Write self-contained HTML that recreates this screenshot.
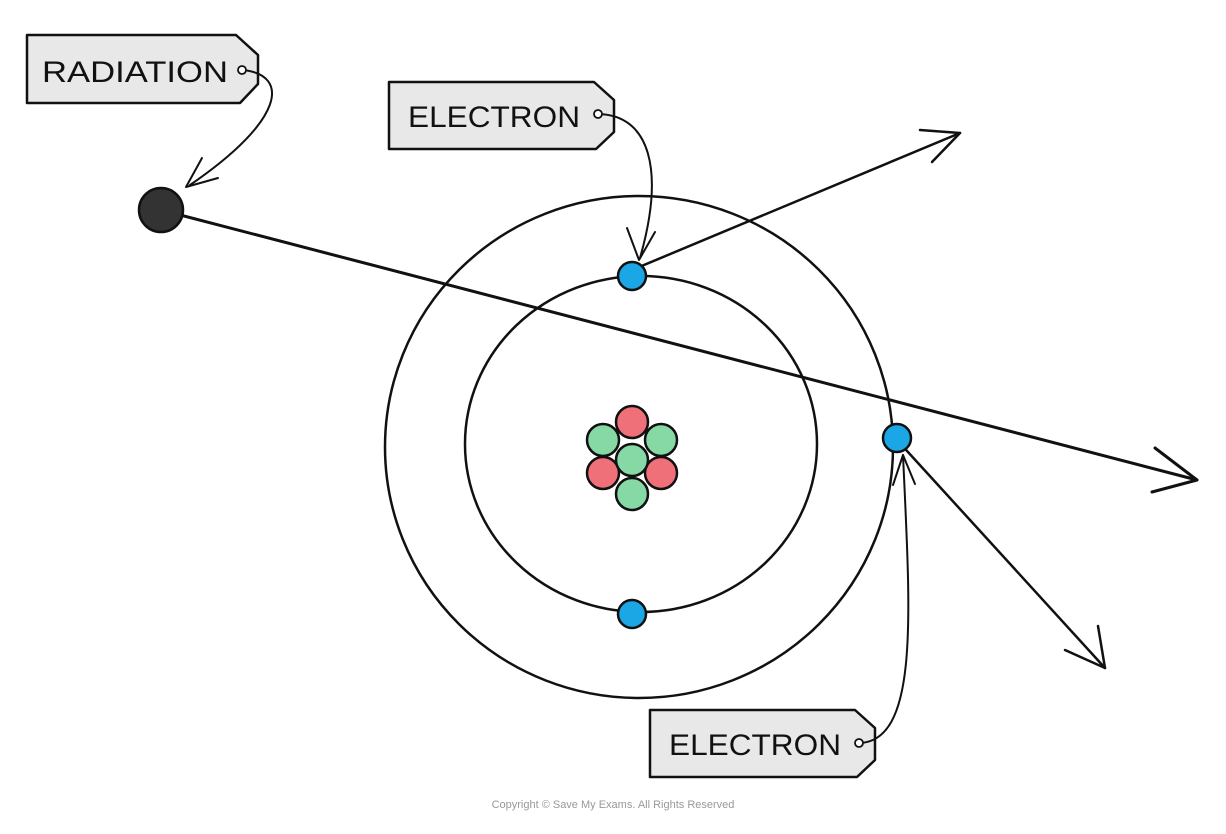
<!DOCTYPE html>
<html><head><style>
body{margin:0;background:#fff;}
svg{display:block;}
text{font-family:"Liberation Sans",sans-serif;}
</style></head><body>
<svg width="1226" height="834" viewBox="0 0 1226 834" xmlns="http://www.w3.org/2000/svg">
<g fill="none" stroke="#111" stroke-width="2.5" stroke-linecap="round" stroke-linejoin="round">
<ellipse cx="639" cy="447" rx="254" ry="251"/>
<ellipse cx="641" cy="444" rx="176" ry="168"/>
<line x1="161" y1="210" x2="1197" y2="480" stroke-width="3"/>
<polyline points="1155,448 1197,480 1152,492" stroke-width="3"/>
<line x1="632" y1="270" x2="960" y2="133"/>
<polyline points="920,130 960,133 932,162"/>
<line x1="897" y1="440" x2="1105" y2="668"/>
<polyline points="1098,626 1105,668 1065,650"/>
<path d="M27,35 L236,35 L258,55 L258,84 L240,103 L27,103 Z" fill="#e8e8e8"/>
<path d="M389,82 L594,82 L614,100 L614,132 L596,149 L389,149 Z" fill="#e8e8e8"/>
<path d="M650,710 L855,710 L875,728 L875,760 L857,777 L650,777 Z" fill="#e8e8e8"/>
<path d="M243,70 C290,75 285,120 190,185" stroke-width="2"/>
<polyline points="202,158 186,187 218,178" stroke-width="2"/>
<path d="M598,114 C650,115 665,170 640,258" stroke-width="2"/>
<polyline points="627,228 639,260 655,232" stroke-width="2"/>
<path d="M860,743 C920,740 910,610 903,455" stroke-width="2"/>
<polyline points="893,485 903,455 915,484" stroke-width="2"/>
</g>
<g fill="#fff" stroke="#111" stroke-width="1.8">
<circle cx="242" cy="70" r="4"/>
<circle cx="598" cy="114" r="4"/>
<circle cx="859" cy="743" r="4"/>
</g>
<g font-size="30" fill="#111">
<text x="42" y="82" textLength="186" lengthAdjust="spacingAndGlyphs">RADIATION</text>
<text x="408" y="127" textLength="172" lengthAdjust="spacingAndGlyphs">ELECTRON</text>
<text x="669" y="755" textLength="172" lengthAdjust="spacingAndGlyphs">ELECTRON</text>
</g>
<g stroke="#111" stroke-width="2.5">
<circle cx="161" cy="210" r="22" fill="#333"/>
<circle cx="632" cy="276" r="14" fill="#1ba7e6"/>
<circle cx="632" cy="614" r="14" fill="#1ba7e6"/>
<circle cx="897" cy="438" r="14" fill="#1ba7e6"/>
<circle cx="632" cy="422" r="16" fill="#f0707a"/>
<circle cx="603" cy="440" r="16" fill="#86d8a4"/>
<circle cx="661" cy="440" r="16" fill="#86d8a4"/>
<circle cx="603" cy="473" r="16" fill="#f0707a"/>
<circle cx="661" cy="473" r="16" fill="#f0707a"/>
<circle cx="632" cy="460" r="16" fill="#86d8a4"/>
<circle cx="632" cy="494" r="16" fill="#86d8a4"/>
</g>
<text x="613" y="808" font-size="11" fill="#999" text-anchor="middle">Copyright © Save My Exams. All Rights Reserved</text>
</svg>
</body></html>
